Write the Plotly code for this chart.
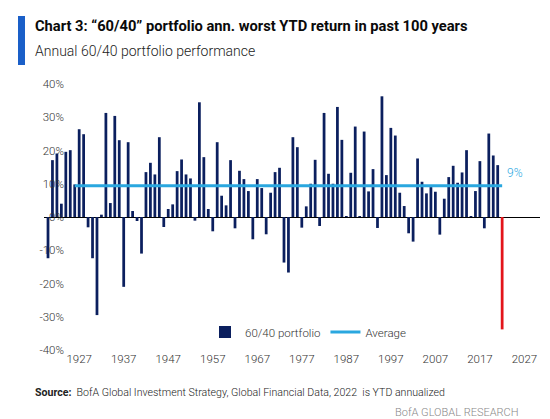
import plotly.graph_objects as go

# ---- data ----
years = list(range(1920, 2023))
returns = [
    -12.4, 17.1, 19.1, 4.0, 19.6, 20.1, 9.8, 26.4, 24.9, -3.1,
    -12.4, -29.5, 0.7, 31.3, 4.2, 30.4, 23.1, -21.0, 22.5, 1.8,
    -1.2, -11.0, 13.5, 16.3, 12.8, 24.0, -3.0, 2.4, 3.8, 13.8,
    17.3, 12.8, 11.6, -1.1, 34.5, 18.0, 2.4, -4.3, 22.5, 6.4,
    3.5, 17.1, -3.4, 13.9, 11.4, 7.8, -6.7, 11.4, 8.7, -5.2,
    7.3, 13.5, 14.8, -13.7, -16.7, 24.0, 21.0, -3.2, 3.2, 10.0,
    17.2, -2.7, 31.3, 13.0, 10.0, 33.1, 23.2, 0.2, 13.3, 27.2,
    0.2, 25.7, 7.7, 14.4, -3.3, 36.3, 12.6, 26.8, 24.5, 7.3,
    3.3, -4.9, -7.4, 17.6, 10.6, 7.1, 9.0, 7.6, -5.3, 5.5,
    12.0, 15.4, 10.3, 13.4, 20.1, 0.3, 7.8, 16.8, -3.4, 25.1,
    18.5, 15.6, -33.8,
]
avg_years = [1926, 2022]
avg_value = 9.4
avg_label = "9%"
x_ticks = list(range(1927, 2028, 10))
y_ticks = list(range(-40, 41, 10))

NAVY = "#0b1f5e"
RED = "#e3151b"
CYAN = "#2aa7df"
bar_colors = [RED if y == years[-1] else NAVY for y in years]

# layout geometry (pixels)
W, H = 550, 419
L, R, T, B = 36, 18, 76, 77
pw, ph = W - L - R, H - T - B


def px(x):
    return (x - L) / pw


def py(y):
    return (H - B - y) / ph


fig = go.Figure()
fig.add_trace(go.Bar(
    x=years, y=returns, name="60/40 portfolio",
    marker=dict(color=bar_colors, line=dict(width=0)),
    width=0.62,
))
fig.add_trace(go.Scatter(
    x=avg_years, y=[avg_value] * len(avg_years), name="Average",
    mode="lines", line=dict(color=CYAN, width=3),
))

FONT = "Roboto, sans-serif"
TXT = "#333333"

fig.update_layout(
    width=W, height=H,
    margin=dict(l=L, r=R, t=T, b=B),
    paper_bgcolor="white", plot_bgcolor="white",
    font=dict(family=FONT, color=TXT, size=11),
    showlegend=True,
    legend=dict(orientation="h", x=px(300), xanchor="center", y=py(324),
                yanchor="middle", bgcolor="rgba(0,0,0,0)",
                font=dict(size=11.5, color=TXT, weight=300), itemwidth=30),
    xaxis=dict(range=[1919.1, 2030.5], tickmode="array", tickvals=x_ticks,
               ticktext=[str(t) for t in x_ticks], showgrid=False,
               showline=False, zeroline=False, ticks="",
               tickfont=dict(size=11.5, color=TXT, weight=300), fixedrange=True),
    yaxis=dict(range=[-40, 40], tickmode="array", tickvals=y_ticks,
               ticktext=[f"{t}%" for t in y_ticks], showgrid=False,
               showline=False, zeroline=True, zerolinecolor="black",
               zerolinewidth=1, ticks="", anchor="free", position=px(56),
               tickfont=dict(size=11.5, color=TXT, weight=300), fixedrange=True),
    bargap=0.4,
)

fig.add_annotation(x=avg_years[-1] + 2.8, y=avg_value + 3.8, xref="x", yref="y",
                   text=avg_label, showarrow=False,
                   font=dict(size=12, color=CYAN, family=FONT, weight=300))

# title block
fig.add_shape(type="rect", xref="paper", yref="paper",
              x0=px(10), x1=px(17), y0=py(57), y1=py(8),
              fillcolor="#1a5fc8", line=dict(width=0))
fig.add_annotation(xref="paper", yref="paper", x=px(25), y=py(18),
                   xanchor="left", yanchor="middle", showarrow=False,
                   text="<b>Chart 3: “60/40” portfolio ann. worst YTD return in past 100 years</b>",
                   font=dict(size=14.7, color="#0a0a0a", family=FONT))
fig.add_annotation(xref="paper", yref="paper", x=px(25), y=py(43),
                   xanchor="left", yanchor="middle", showarrow=False,
                   text="Annual 60/40 portfolio performance",
                   font=dict(size=14, color="#222222", family=FONT, weight=300))
fig.add_annotation(xref="paper", yref="paper", x=px(25), y=py(384),
                   xanchor="left", yanchor="middle", showarrow=False,
                   text="<b>Source:</b>  BofA Global Investment Strategy, Global Financial Data, 2022  is YTD annualized",
                   font=dict(size=10.6, color="#222222", family=FONT, weight=300))
fig.add_annotation(xref="paper", yref="paper", x=px(512), y=py(404),
                   xanchor="right", yanchor="middle", showarrow=False,
                   text="BofA GLOBAL RESEARCH",
                   font=dict(size=11, color="#888888", family=FONT, weight=300))

fig.write_html("out.html")
